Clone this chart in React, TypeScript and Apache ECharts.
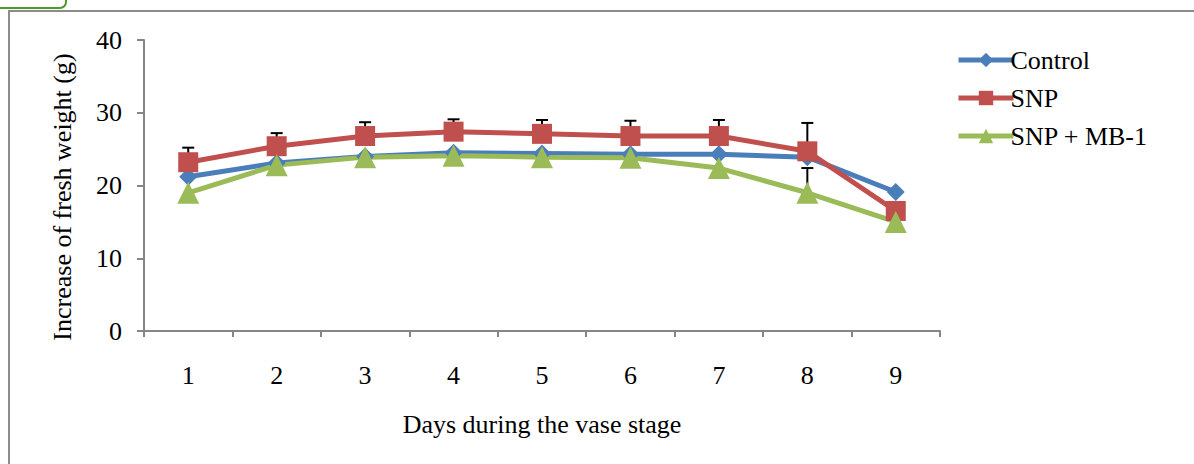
import React, { useEffect, useRef } from "react";
import * as echarts from "echarts";

const days = ["1", "2", "3", "4", "5", "6", "7", "8", "9"];
const control = [21.2, 23.1, 24.0, 24.5, 24.4, 24.3, 24.3, 23.9, 19.1];
const snp = [23.2, 25.4, 26.8, 27.4, 27.1, 26.8, 26.8, 24.7, 16.5];
const snpMb1 = [19.0, 22.8, 23.9, 24.1, 23.9, 23.8, 22.4, 19.0, 15.0];
// upper ends of error bars (null = not visible)
const snpErrTop = [25.2, 27.2, 28.7, 29.1, 29.0, 28.9, 29.0, 28.6, null];
const snpMb1ErrTop = [null, null, null, null, null, null, null, 22.4, null];
const yTicks = [0, 10, 20, 30, 40];

const BLUE = "#4A7EBB";
const RED = "#C0504D";
const GREEN = "#9BBB59";
const FONT = "Liberation Serif";
const FS = 26;

function errorSeries(base: number[], tops: (number | null)[], name: string) {
  const data = base
    .map((v, i) => (tops[i] == null ? null : [i, v, tops[i]]))
    .filter((d) => d != null);
  return {
    type: "custom",
    name,
    z: 1,
    silent: true,
    data,
    renderItem: (params: any, api: any) => {
      const i = api.value(0);
      const p0 = api.coord([i, api.value(1)]);
      const p1 = api.coord([i, api.value(2)]);
      return {
        type: "group",
        children: [
          {
            type: "line",
            shape: { x1: p0[0], y1: p0[1], x2: p1[0], y2: p1[1] },
            style: { stroke: "#000", lineWidth: 2 },
          },
          {
            type: "line",
            shape: { x1: p1[0] - 6, y1: p1[1], x2: p1[0] + 6, y2: p1[1] },
            style: { stroke: "#000", lineWidth: 2 },
          },
        ],
      };
    },
  };
}

export default function App() {
  const ref = useRef<HTMLDivElement>(null);
  useEffect(() => {
    const chart = echarts.init(ref.current!, undefined, { renderer: "svg" });
    const lineSeries = (name: string, data: number[], color: string, symbol: string, size: number) => ({
      type: "line",
      name,
      data,
      z: 3,
      symbol,
      symbolSize: size,
      showAllSymbol: true,
      lineStyle: { color, width: 5 },
      itemStyle: { color },
    });
    chart.setOption({
      animation: false,
      backgroundColor: "#fff",
      textStyle: { fontFamily: FONT },
      grid: { left: 144, right: 254, top: 40, bottom: 133, containLabel: false },
      legend: {
        orient: "vertical",
        left: 951,
        top: 42,
        itemWidth: 55,
        itemHeight: 18,
        itemGap: 12,
        lineStyle: { width: 5 },
        textStyle: { fontFamily: FONT, fontSize: FS, color: "#000", padding: [0, 0, 0, -8] },
        data: ["Control", "SNP", "SNP + MB-1"],
      },
      xAxis: {
        type: "category",
        data: days,
        boundaryGap: true,
        axisLine: { lineStyle: { color: "#868686", width: 2 } },
        axisTick: { show: true, length: 6, lineStyle: { color: "#868686", width: 2 } },
        axisLabel: { fontFamily: FONT, fontSize: FS, color: "#000", margin: 31 },
        name: "Days during the vase stage",
        nameLocation: "middle",
        nameGap: 80,
        nameTextStyle: { fontFamily: FONT, fontSize: FS, color: "#000" },
      },
      yAxis: {
        type: "value",
        min: 0,
        max: 40,
        interval: 10,
        splitLine: { show: false },
        axisLine: { show: true, lineStyle: { color: "#868686", width: 2 } },
        axisTick: { show: true, length: 7, lineStyle: { color: "#868686", width: 2 } },
        axisLabel: {
          fontFamily: FONT,
          fontSize: FS,
          color: "#000",
          margin: 22,
          formatter: (v: number) => (yTicks.includes(v) ? String(v) : ""),
        },
      },
      graphic: [
        {
          type: "polyline",
          shape: { points: [[9, 470], [9, 11], [1200, 11]] },
          style: { stroke: "#8c8c8c", lineWidth: 2, fill: null },
        },
        {
          type: "rect",
          shape: { x: -6, y: -12, width: 72, height: 20, r: 6 },
          style: { stroke: "#4E9A2A", lineWidth: 2, fill: "#fff" },
        },
        {
          type: "text",
          x: 62,
          y: 197,
          rotation: Math.PI / 2,
          style: {
            text: "Increase of fresh weight (g)",
            fontFamily: FONT,
            fontSize: FS,
            fill: "#000",
            align: "center",
            verticalAlign: "middle",
          },
        },
      ],
      series: [
        errorSeries(snp, snpErrTop, "snpErr"),
        errorSeries(snpMb1, snpMb1ErrTop, "mbErr"),
        lineSeries("Control", control, BLUE, "diamond", 18),
        lineSeries("SNP", snp, RED, "rect", 20),
        lineSeries("SNP + MB-1", snpMb1, GREEN, "triangle", 22),
      ],
    });
    return () => chart.dispose();
  }, []);
  return (
    <div
      ref={ref}
      style={{ position: "absolute", left: 0, top: 0, width: 1194, height: 464 }}
    />
  );
}
